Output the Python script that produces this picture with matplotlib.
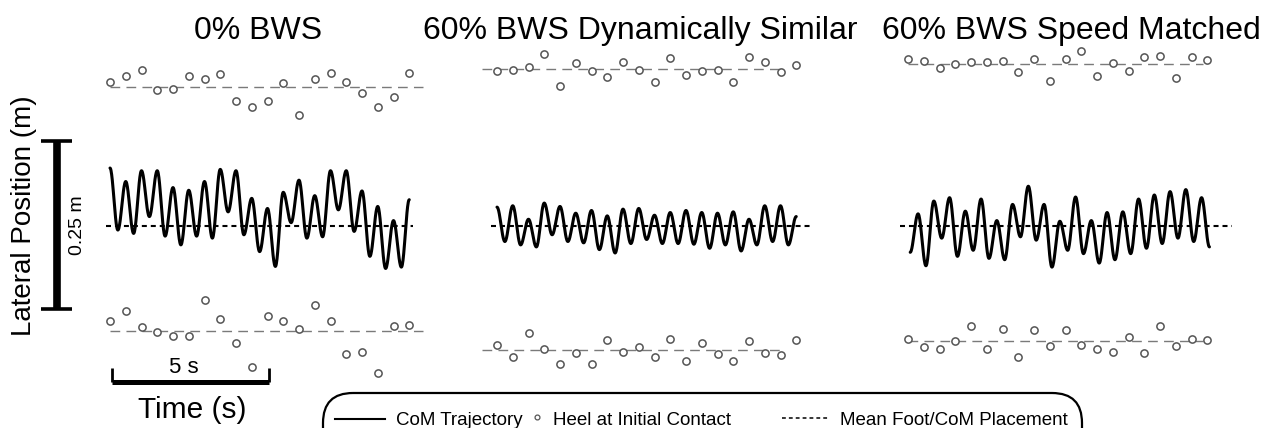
import numpy as np
import matplotlib
matplotlib.use('Agg')
import matplotlib.pyplot as plt
from matplotlib.patches import FancyBboxPatch

plt.rcParams['font.family'] = ['Liberation Sans', 'DejaVu Sans']

titles = ['0% BWS', '60% BWS Dynamically Similar', '60% BWS Speed Matched']

# heel strikes every 0.5 s, CoM turning points every 0.25 s
step_dt = 0.5
com_dt = 0.25

# lateral heel position at initial contact (m, relative to mean CoM)
heel_top_0bws = [0.213, 0.223, 0.232, 0.202, 0.203, 0.223, 0.218, 0.226, 0.186, 0.177,
                 0.186, 0.212, 0.165, 0.218, 0.227, 0.213, 0.197, 0.176, 0.192, 0.227]
heel_bot_0bws = [-0.141, -0.126, -0.150, -0.158, -0.163, -0.163, -0.110, -0.138, -0.173, -0.209,
                 -0.134, -0.141, -0.153, -0.117, -0.141, -0.190, -0.187, -0.218, -0.149, -0.147]
heel_top_dyn = [0.230, 0.232, 0.236, 0.255, 0.208, 0.242, 0.230, 0.221, 0.243, 0.232,
                0.214, 0.249, 0.224, 0.230, 0.232, 0.214, 0.251, 0.243, 0.229, 0.239]
heel_bot_dyn = [-0.177, -0.195, -0.159, -0.183, -0.205, -0.188, -0.205, -0.169, -0.187, -0.180,
                -0.194, -0.167, -0.200, -0.173, -0.190, -0.200, -0.171, -0.189, -0.192, -0.169]
heel_top_spd = [0.248, 0.245, 0.234, 0.240, 0.244, 0.244, 0.245, 0.228, 0.248, 0.215,
                0.248, 0.260, 0.222, 0.242, 0.230, 0.250, 0.252, 0.220, 0.250, 0.246]
heel_bot_spd = [-0.167, -0.180, -0.182, -0.170, -0.148, -0.183, -0.153, -0.195, -0.155, -0.178,
                -0.155, -0.177, -0.182, -0.187, -0.164, -0.188, -0.148, -0.178, -0.168, -0.169]

# CoM lateral turning points (m)
com_0bws = [0.086, -0.006, 0.066, -0.011, 0.082, 0.014, 0.082, -0.015, 0.057, -0.028,
            0.053, -0.015, 0.066, -0.018, 0.084, 0.021, 0.082, -0.013, 0.041, -0.038,
            0.026, -0.060, 0.050, 0.005, 0.068, -0.018, 0.045, -0.016, 0.082, 0.024,
            0.082, -0.008, 0.052, -0.045, 0.029, -0.063, 0.008, -0.061, 0.039]
com_dyn = [0.028, -0.023, 0.030, -0.028, 0.010, -0.031, 0.034, -0.013, 0.029, -0.023,
           0.019, -0.025, 0.023, -0.035, 0.015, -0.040, 0.025, -0.026, 0.026, -0.020,
           0.016, -0.026, 0.020, -0.026, 0.023, -0.027, 0.020, -0.033, 0.019, -0.028,
           0.021, -0.037, 0.010, -0.028, 0.030, -0.023, 0.030, -0.028, 0.014]
com_spd = [-0.039, 0.018, -0.059, 0.037, -0.018, 0.042, -0.045, 0.022, -0.036, 0.040,
           -0.048, 0.008, -0.050, 0.032, -0.016, 0.059, -0.021, 0.032, -0.061, 0.007,
           -0.036, 0.043, -0.041, 0.008, -0.055, 0.020, -0.050, 0.021, -0.041, 0.040,
           -0.033, 0.046, -0.026, 0.051, -0.018, 0.054, -0.023, 0.042, -0.031]
com_start = [0.0, 0.0, 0.07]

heel_top = [heel_top_0bws, heel_top_dyn, heel_top_spd]
heel_bot = [heel_bot_0bws, heel_bot_dyn, heel_bot_spd]
com = [com_0bws, com_dyn, com_spd]

# layout (pixels) and scale of the drawing
W, H = 1266, 428
PX_S = 31.5      # px per second
PX_M = 674.0     # px per metre
Y0 = 226         # row of the mean CoM line
panel_x0 = [110, 497, 908]
title_x = [258, 640, 1071]
heel_span = [(0.0, 9.95), (-0.48, 9.1), (0.0, 9.35)]
com_span = [(-0.13, 9.62), (-0.18, 10.0), (-0.26, 10.3)]


def sx(px):
    return px / PX_S


def sy(py):
    return (Y0 - py) / PX_M


def smooth(t, v, n=24):
    # half-cosine between successive turning points
    ts, vs = [], []
    u = np.linspace(0, 1, n, endpoint=False)
    s = (1 - np.cos(np.pi * u)) / 2
    for i in range(len(t) - 1):
        ts.append(t[i] + (t[i + 1] - t[i]) * u)
        vs.append(v[i] + (v[i + 1] - v[i]) * s)
    ts.append([t[-1]])
    vs.append([v[-1]])
    return np.concatenate(ts), np.concatenate(vs)


fig = plt.figure(figsize=(W / 100, H / 100), dpi=100)

# decoration layer in pixel units
deco = fig.add_axes([0, 0, 1, 1])
deco.set_xlim(0, W)
deco.set_ylim(H, 0)
deco.axis('off')

ax = fig.add_axes([0, 0, 1, 1])
ax.set_xlim(0, sx(W))
ax.set_ylim(sy(H), sy(0))
ax.axis('off')

for i in range(3):
    t0 = sx(panel_x0[i])
    n = len(heel_top[i])
    th = t0 + step_dt * np.arange(n)
    a, b = heel_span[i]
    for heel in (heel_top[i], heel_bot[i]):
        m = np.mean(heel)
        ax.plot([t0 + a, t0 + b], [m, m], color='#7a7a7a', lw=1.0, dashes=(7, 4.5))
        ax.plot(th, heel, 'o', ms=5.2, mfc='white', mec='#555555', mew=1.1)

    tc = t0 + com_start[i] + com_dt * np.arange(len(com[i]))
    ct, cv = smooth(tc, np.array(com[i]))
    a, b = com_span[i]
    ax.plot([t0 + a, t0 + b], [0, 0], color='black', lw=1.5, dashes=(2.4, 1.9))
    ax.plot(ct, cv, color='black', lw=2.2, solid_capstyle='round')

    fig.text(title_x[i] / W, 1 - 31 / H, titles[i], fontsize=23,
             ha='center', va='center')

# scale bars: 0.25 m and 5 s
bx = sx(57)
btop = sy(141)
ax.plot([bx, bx], [btop, btop - 0.25], color='black', lw=5.5, solid_capstyle='butt')
for yy in (btop, btop - 0.25):
    ax.plot([sx(41), sx(72)], [yy, yy], color='black', lw=2.6, solid_capstyle='butt')
ax.text(sx(77), btop - 0.125, '0.25 m', rotation=90, fontsize=14,
        ha='center', va='center')

hx = sx(111.7)
hy = sy(381.7)
ax.plot([hx, hx + 5], [hy, hy], color='black', lw=3.6, solid_capstyle='butt')
for xx in (hx, hx + 5):
    ax.plot([xx, xx], [hy, sy(368)], color='black', lw=2.0, solid_capstyle='butt')
ax.text(hx + 2.3, sy(373), '5 s', fontsize=16, ha='center', va='baseline')

deco.text(192, 418, 'Time (s)', fontsize=21.5, ha='center', va='baseline')
deco.text(24, 216, 'Lateral Position (m)', fontsize=20, rotation=90,
          ha='center', va='center')

# legend
box = FancyBboxPatch((323, 393), 759, 80, boxstyle='round,pad=0,rounding_size=30',
                     fc='none', ec='black', lw=1.6)
deco.add_patch(box)
deco.plot([335, 385], [419, 419], color='black', lw=1.5)
deco.text(396, 425, 'CoM Trajectory', fontsize=13.5, va='baseline')
deco.plot([537], [417], 'o', ms=3.5, mfc='white', mec='#555555', mew=0.9)
deco.text(553, 425, 'Heel at Initial Contact', fontsize=13.5, va='baseline')
deco.plot([782, 828], [418, 418], color='black', lw=1.1, dashes=(2.5, 2))
deco.text(840, 425, 'Mean Foot/CoM Placement', fontsize=13.5, va='baseline')

fig.savefig('out.png', dpi=100)
